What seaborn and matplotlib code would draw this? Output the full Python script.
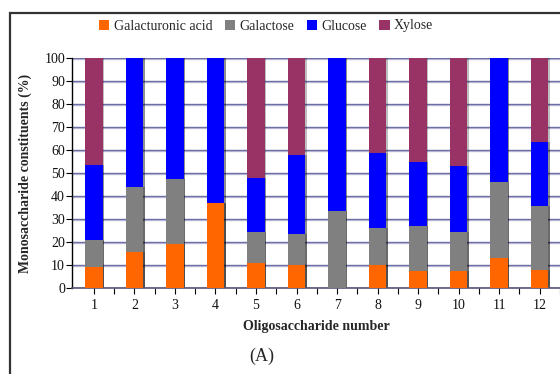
import matplotlib
matplotlib.use("Agg")
import matplotlib.pyplot as plt
from matplotlib.patches import Rectangle
import numpy as np
import pandas as pd
import seaborn as sns

# Oligosaccharide composition (% of monosaccharide constituents)
oligos = ["1", "2", "3", "4", "5", "6", "7", "8", "9", "10", "11", "12"]
galacturonic_acid = [9, 15.5, 19, 37, 11, 10, 0, 10, 7.5, 7.5, 13, 8]
galactose = [12, 28.5, 28.5, 0, 13.5, 13.5, 33.5, 16, 19.5, 17, 33, 27.5]
glucose = [32.5, 56, 52.5, 63, 23.5, 34.5, 66.5, 32.5, 28, 28.5, 54, 28]
xylose = [46.5, 0, 0, 0, 52, 42, 0, 41.5, 45, 47, 0, 36.5]

series = ["Galacturonic acid", "Galactose", "Glucose", "Xylose"]
colors = ["#FF6600", "#808080", "#0000FF", "#993366"]

sns.set_theme(style="white")
plt.rcParams["font.family"] = ["Liberation Serif", "DejaVu Serif"]

df = pd.DataFrame({"oligo": oligos,
                   series[0]: galacturonic_acid,
                   series[1]: galactose,
                   series[2]: glucose,
                   series[3]: xylose})
# cumulative tops for the stacked bars
cum = df[series].cumsum(axis=1)

fig = plt.figure(figsize=(5.6, 3.74), dpi=100)
ax = fig.add_axes([72 / 560, 1 - 288 / 374, (560 - 72) / 560, (288 - 58) / 374])

bar_w = 0.43
# draw from the tallest cumulative layer down so each layer shows its own band
for name, col in reversed(list(zip(series, colors))):
    sns.barplot(x=df["oligo"], y=cum[name], color=col, width=bar_w,
                saturation=1, ax=ax, zorder=3, edgecolor="none")

# thin darker edge on the right side of each bar segment
for p in list(ax.patches):
    x0, w = p.get_x(), p.get_width()
    y0, h = p.get_y(), p.get_height()
    if h > 0:
        ax.add_patch(Rectangle((x0 + w, y0), 0.035, h, facecolor="#000000",
                               alpha=0.25, edgecolor="none", zorder=2))

ax.set_xlim(-0.54, 11.47)
ax.set_ylim(0, 100)
ax.set_yticks(np.arange(0, 101, 10))
ax.set_xticks(np.arange(len(oligos)))
ax.set_xticks(np.arange(len(oligos)) + 0.5, minor=True)
ax.set_xticklabels(oligos)

# gridlines with a pale shadow beneath
for yv in np.arange(0, 101, 10):
    ax.axhline(yv - 0.45, color="#c4c4dc", lw=1.0, zorder=1)
    ax.axhline(yv, color="#6f6fa8", lw=1.0, zorder=1)

for s in ["top", "right"]:
    ax.spines[s].set_visible(False)
ax.spines["left"].set_color("black")
ax.spines["left"].set_linewidth(1.0)
ax.spines["bottom"].set_color("#555577")
ax.spines["bottom"].set_linewidth(1.2)

ax.tick_params(axis="y", which="major", direction="out", length=4, width=0.8,
               color="black", labelsize=10, pad=1, left=True)
ax.tick_params(axis="x", which="both", direction="out", length=4, width=0.8,
               color="black", labelsize=10, pad=4, bottom=True)
for lab in ax.get_xticklabels() + ax.get_yticklabels():
    lab.set_color("#111111")

ax.set_xlabel("Oligosaccharide number", fontsize=10, fontweight="bold",
              labelpad=6)
ax.set_ylabel("Monosaccharide constituents (%)", fontsize=10,
              fontweight="bold", labelpad=9)

# legend across the top
handles = [Rectangle((0, 0), 1, 1, facecolor=c, edgecolor="none") for c in colors]
fig.legend(handles, series, loc="center", bbox_to_anchor=(266 / 560, 1 - 26 / 374),
           ncol=4, frameon=False, fontsize=10, handlelength=0.75,
           handleheight=0.75, handletextpad=0.3, columnspacing=0.9)

fig.text(262 / 560, 1 - 356 / 374, "(A)", ha="center", va="center", fontsize=13)

# outer frame around the figure panel
fig.add_artist(Rectangle((10 / 560, -0.1), 1.2, 1.1 - 13 / 374,
                         transform=fig.transFigure, fill=False,
                         edgecolor="#333333", lw=1.6))

fig.savefig("out.png", dpi=100)
